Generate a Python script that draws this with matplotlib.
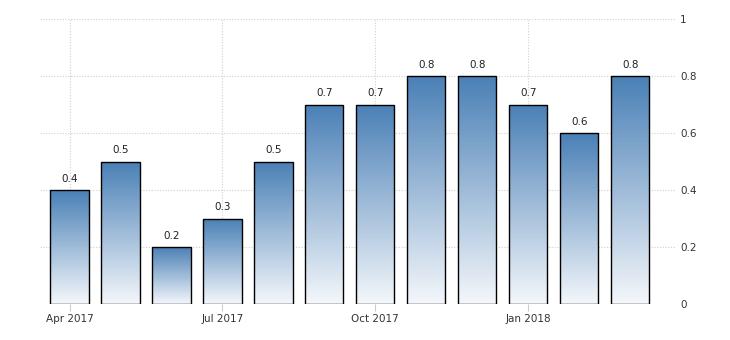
import numpy as np
import matplotlib
matplotlib.use("Agg")
import matplotlib.pyplot as plt
from matplotlib.colors import LinearSegmentedColormap

# monthly values, Apr 2017 .. Mar 2018
months = ["Apr 2017", "May 2017", "Jun 2017", "Jul 2017", "Aug 2017", "Sep 2017",
          "Oct 2017", "Nov 2017", "Dec 2017", "Jan 2018", "Feb 2018", "Mar 2018"]
values = [0.4, 0.5, 0.2, 0.3, 0.5, 0.7, 0.7, 0.8, 0.8, 0.7, 0.6, 0.8]
tick_months = ["Apr 2017", "Jul 2017", "Oct 2017", "Jan 2018"]
y_ticks = [0, 0.2, 0.4, 0.6, 0.8, 1]
y_labels = ["0", "0.2", "0.4", "0.6", "0.8", "1"]

fig = plt.figure(figsize=(7.3, 3.4), dpi=100)
ax = fig.add_axes([40 / 730, 36 / 340, 636 / 730, 285 / 340])

cmap = LinearSegmentedColormap.from_list("blu", ["#f4f7fb", "#4a80b6"])
grad = np.linspace(0, 1, 256).reshape(-1, 1)
width = 0.75
x = np.arange(len(values))

bars = ax.bar(x, values, width=width, facecolor="none", edgecolor="black",
              linewidth=1.0, joinstyle="miter", zorder=3)
for b, v in zip(bars, values):
    im = ax.imshow(grad, cmap=cmap, origin="lower", aspect="auto",
                   extent=[b.get_x(), b.get_x() + width, 0, v], zorder=2)
    im.set_clip_path(b)
    ax.text(b.get_x() + width / 2, v + 0.022, str(v), ha="center", va="bottom",
            fontsize=7.5, color="#222222")

ax.set_xlim(-0.58, 11.9)
ax.set_ylim(0, 1)

ax.yaxis.tick_right()
ax.set_yticks(y_ticks)
ax.set_yticklabels(y_labels)
xt = [months.index(m) for m in tick_months]
ax.set_xticks(xt)
ax.set_xticklabels(tick_months)
ax.tick_params(axis="y", length=0, pad=3, labelsize=7.5, labelcolor="#333333")
ax.tick_params(axis="x", length=5, color="#cccccc", pad=2, labelsize=7.5, labelcolor="#333333")

ax.grid(True, color="#d0d0d0", linestyle=(0, (1, 1.5)), linewidth=0.8, zorder=0)
for s in ax.spines.values():
    s.set_visible(False)

fig.savefig("out.png", dpi=100)
